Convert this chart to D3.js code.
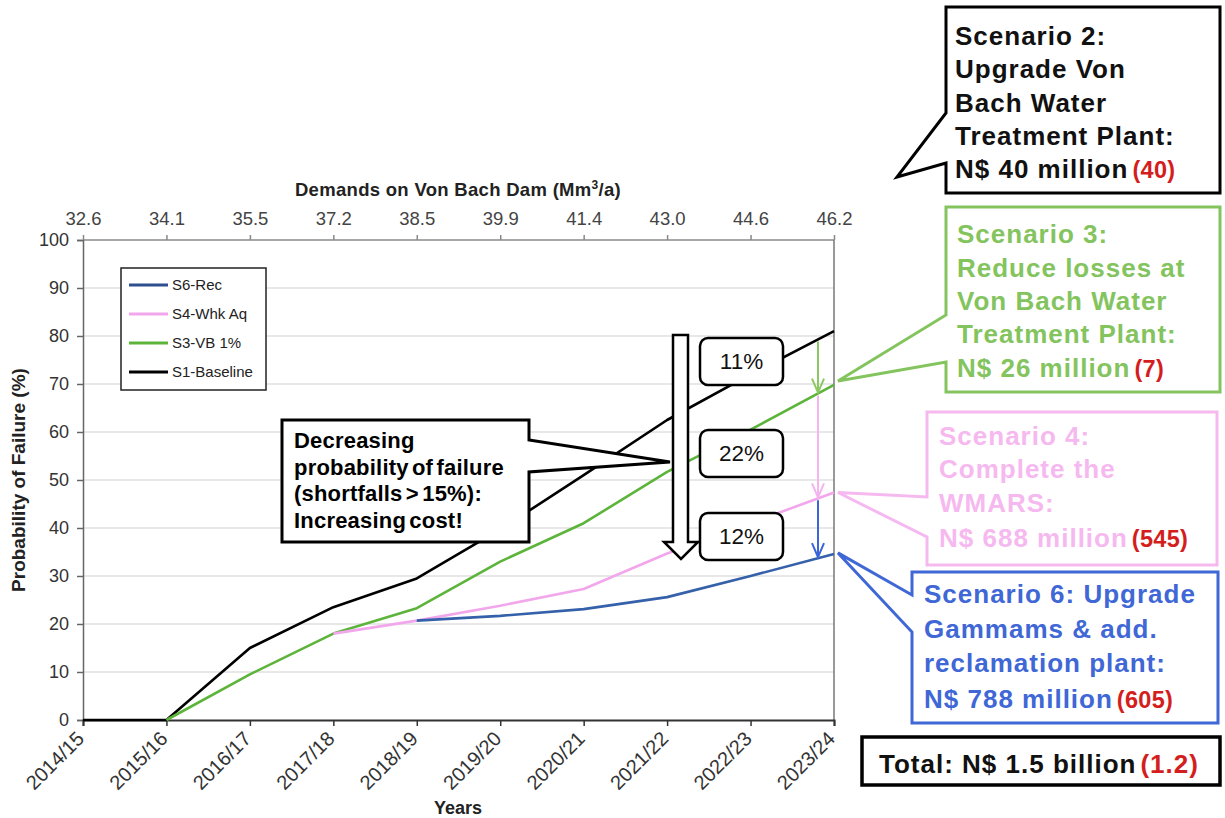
<!DOCTYPE html>
<html>
<head>
<meta charset="utf-8">
<script src="https://cdn.jsdelivr.net/npm/d3@7"></script>
<style>
  html, body { margin: 0; padding: 0; background: #fff; }
  svg { display: block; font-family: "Liberation Sans", Arial, sans-serif; }
</style>
</head>
<body>
<svg id="chart" width="1225" height="818"></svg>
<script>
// ---------- DATA ----------
const years = ["2014/15","2015/16","2016/17","2017/18","2018/19","2019/20","2020/21","2021/22","2022/23","2023/24"];
const demandLabels = ["32.6","34.1","35.5","37.2","38.5","39.9","41.4","43.0","44.6","46.2"];
const yTickValues = [0,10,20,30,40,50,60,70,80,90,100];
const seriesNames = ["S6-Rec","S4-Whk Aq","S3-VB 1%","S1-Baseline"];
const s1Baseline = [0, 0, 15, 23.5, 29.5, 39.7, 51, 62.5, 72, 81];
const s3VB = [null, 0, 9.5, 18, 23.3, 33, 41, 51.7, 60.5, 69.8];
const s4Whk = [null, null, null, 18, 20.7, 23.8, 27.3, 34.7, 41, 47.4];
const s6Rec = [null, null, null, null, 20.7, 21.7, 23.1, 25.6, 30, 34.6];
const diffLabels = ["11%", "22%", "12%"];

// ---------- SETUP ----------
const svg = d3.select("#chart");
const plot = {left: 83, right: 834, top: 240, bottom: 720};

const x = d3.scalePoint().domain(years).range([plot.left, plot.right]);
const xTop = d3.scalePoint().domain(demandLabels).range([plot.left, plot.right]);
const y = d3.scaleLinear().domain([0, 100]).range([plot.bottom, plot.top]);

const colBlue = "#3560aa", colPink = "#f2a7ec", colGreen = "#5cb43b", colBlack = "#000";
const seriesColors = [colBlue, colPink, colGreen, colBlack];
const seriesData = [s6Rec, s4Whk, s3VB, s1Baseline];

// gridlines
svg.append("g").selectAll("line").data(yTickValues.filter(d => d > 0 && d < 100)).join("line")
  .attr("x1", plot.left).attr("x2", plot.right)
  .attr("y1", d => y(d)).attr("y2", d => y(d))
  .attr("stroke", "#e0e0e0").attr("stroke-width", 1.5);

// frame (top & right)
svg.append("line").attr("x1", plot.left).attr("x2", plot.right).attr("y1", plot.top).attr("y2", plot.top)
  .attr("stroke", "#8a8a8a").attr("stroke-width", 1.5);
svg.append("line").attr("x1", plot.right).attr("x2", plot.right).attr("y1", plot.top).attr("y2", plot.bottom)
  .attr("stroke", "#777").attr("stroke-width", 1.5);

// axes
const axisLeft = svg.append("g").attr("transform", `translate(${plot.left},0)`)
  .call(d3.axisLeft(y).tickValues(yTickValues).tickSize(6).tickPadding(8));
axisLeft.select(".domain").attr("stroke", "#666").attr("stroke-width", 1.5);
axisLeft.selectAll(".tick line").attr("stroke", "#666").attr("stroke-width", 1.5);
axisLeft.selectAll("text").attr("font-size", 18).attr("fill", "#333")
  .attr("font-family", "Liberation Sans, Arial, sans-serif");

const axisBottom = svg.append("g").attr("transform", `translate(0,${plot.bottom})`)
  .call(d3.axisBottom(x).tickSize(6).tickPadding(4));
axisBottom.select(".domain").attr("stroke", "#333").attr("stroke-width", 2);
axisBottom.selectAll(".tick line").attr("stroke", "#333").attr("stroke-width", 1.5);
axisBottom.selectAll("text").attr("font-size", 20).attr("fill", "#333")
  .attr("font-family", "Liberation Sans, Arial, sans-serif")
  .attr("text-anchor", "end").attr("x", 0).attr("y", 0).attr("dy", "0.35em")
  .attr("transform", "translate(-3,15) rotate(-45)");

const axisTopG = svg.append("g").attr("transform", `translate(0,${plot.top})`)
  .call(d3.axisTop(xTop).tickSize(5).tickPadding(10));
axisTopG.select(".domain").remove();
axisTopG.selectAll(".tick line").attr("stroke", "#888").attr("stroke-width", 1.5);
axisTopG.selectAll("text").attr("font-size", 18.5).attr("fill", "#444")
  .attr("font-family", "Liberation Sans, Arial, sans-serif");

// axis titles
const topTitle = svg.append("text").attr("x", 458).attr("y", 196).attr("text-anchor", "middle")
  .attr("font-size", 18.5).attr("font-weight", "bold").attr("fill", "#222").attr("letter-spacing", "0.3");
topTitle.append("tspan").text("Demands on Von Bach Dam (Mm");
topTitle.append("tspan").text("3").attr("font-size", 12).attr("dy", -7);
topTitle.append("tspan").text("/a)").attr("dy", 7);

svg.append("text").attr("x", 458).attr("y", 814).attr("text-anchor", "middle")
  .attr("font-size", 18).attr("font-weight", "bold").attr("fill", "#222").text("Years");

svg.append("text").attr("transform", "translate(25,480) rotate(-90)").attr("text-anchor", "middle")
  .attr("font-size", 19).attr("font-weight", "bold").attr("fill", "#222").text("Probability of Failure (%)");

// series lines
const line = d3.line().defined(d => d[1] !== null).x(d => x(d[0])).y(d => y(d[1]));
[3, 2, 1, 0].forEach(i => {
  svg.append("path").datum(years.map((yr, j) => [yr, seriesData[i][j]]))
    .attr("d", line).attr("fill", "none").attr("stroke", seriesColors[i])
    .attr("stroke-width", 2.6).attr("stroke-linejoin", "round");
});

// legend
const lg = svg.append("g");
lg.append("rect").attr("x", 121).attr("y", 268).attr("width", 145).attr("height", 122)
  .attr("fill", "#fff").attr("stroke", "#222").attr("stroke-width", 1.5);
seriesNames.forEach((nm, i) => {
  const yy = 285 + i * 29;
  lg.append("line").attr("x1", 129).attr("x2", 168).attr("y1", yy).attr("y2", yy)
    .attr("stroke", i === 0 ? "#2d4f8e" : seriesColors[i]).attr("stroke-width", 3);
  lg.append("text").attr("x", 172).attr("y", yy + 5).attr("font-size", 15).attr("fill", "#222").text(nm);
});

// ---------- ANNOTATIONS ----------
const n = years.length;
function valAt(series, px) {
  const x0 = x(years[n - 2]), x1 = x(years[n - 1]);
  const t = (px - x0) / (x1 - x0);
  return series[n - 2] + t * (series[n - 1] - series[n - 2]);
}
const arrowX = plot.right - 16;
const arrowDefs = [
  {from: s1Baseline, to: s3VB, color: "#8cc862"},
  {from: s3VB, to: s4Whk, color: "#f4b4ee"},
  {from: s4Whk, to: s6Rec, color: "#3a66d8"}
];
arrowDefs.forEach(a => {
  const y0 = y(valAt(a.from, arrowX)) + 2, y1 = y(valAt(a.to, arrowX)) - 1;
  svg.append("line").attr("x1", arrowX).attr("x2", arrowX).attr("y1", y0).attr("y2", y1)
    .attr("stroke", a.color).attr("stroke-width", 2);
  svg.append("path").attr("d", `M${arrowX - 6},${y1 - 14} L${arrowX},${y1} L${arrowX + 6},${y1 - 14}`)
    .attr("fill", "none").attr("stroke", a.color).attr("stroke-width", 2);
});

// decreasing callout
svg.append("path").attr("d", "M282,420 H529 V440 L670,462 L529,472 V542 H282 Z")
  .attr("fill", "#fff").attr("stroke", "#000").attr("stroke-width", 3).attr("stroke-linejoin", "miter");
const decLines = ["Decreasing", "probability of failure", "(shortfalls > 15%):", "Increasing cost!"];
decLines.forEach((t, i) => {
  svg.append("text").attr("x", 294).attr("y", 448 + i * 26.7).attr("font-size", 22)
    .attr("font-weight", "bold").attr("letter-spacing", "0.2").attr("word-spacing", "-3").attr("fill", "#000").text(t);
});

// big down arrow
svg.append("path").attr("d", "M673,335 H688 V542 H698 L681,559 L664,542 H673 Z")
  .attr("fill", "#fff").attr("stroke", "#000").attr("stroke-width", 2.5).attr("stroke-linejoin", "miter");

// percentage boxes
[338, 430, 513].forEach((top, i) => {
  svg.append("rect").attr("x", 700).attr("y", top).attr("width", 83).attr("height", 47).attr("rx", 8)
    .attr("fill", "#fff").attr("stroke", "#000").attr("stroke-width", 2.5);
  svg.append("text").attr("x", 741.5).attr("y", top + 31).attr("text-anchor", "middle")
    .attr("font-size", 22.5).attr("fill", "#111").text(diffLabels[i]);
});

// scenario callouts
const redCol = "#d41e1e";
function callout(box, base, tip, color, lines, tx, baselines, red) {
  const [x0, y0, x1, y1] = box;
  svg.append("path")
    .attr("d", `M${x0},${y0} H${x1} V${y1} H${x0} V${base[1]} L${tip[0]},${tip[1]} L${x0},${base[0]} Z`)
    .attr("fill", "#fff").attr("stroke", color).attr("stroke-width", 3).attr("stroke-linejoin", "miter");
  lines.forEach((t, i) => {
    const tEl = svg.append("text").attr("x", tx).attr("y", baselines[i]).attr("font-size", 26)
      .attr("font-weight", "bold").attr("letter-spacing", "1").attr("fill", color === "#000" ? "#111" : color);
    tEl.append("tspan").text(t);
    if (i === lines.length - 1 && red) {
      tEl.append("tspan").attr("dx", 4).attr("font-size", 23.5).attr("letter-spacing", "0.3").attr("fill", redCol).text(red);
    }
  });
}
const endX = plot.right;
callout([946, 7, 1220, 193], [113, 163], [897, 177], "#000",
  ["Scenario 2:", "Upgrade Von", "Bach Water", "Treatment Plant:", "N$ 40 million"], 955,
  [45, 78, 112, 145, 178], "(40)");
callout([946, 207, 1220, 392], [315, 362], [endX + 4, y(s3VB[n - 1]) - 4], "#84c45e",
  ["Scenario 3:", "Reduce losses at", "Von Bach Water", "Treatment Plant:", "N$ 26 million"], 957,
  [243, 277, 310, 343, 377], "(7)");
callout([927, 412, 1217, 565], [497, 537], [endX + 4, y(s4Whk[n - 1])], "#f6b9ef",
  ["Scenario 4:", "Complete the", "WMARS:", "N$ 688 million"], 939,
  [445, 478, 512, 547], "(545)");
callout([912, 572, 1218, 723], [595, 632], [endX + 4, y(s6Rec[n - 1]) - 1], "#3f67d6",
  ["Scenario 6: Upgrade", "Gammams & add.", "reclamation plant:", "N$ 788 million"], 924,
  [603, 638, 672, 708], "(605)");

// total box
svg.append("rect").attr("x", 862).attr("y", 737).attr("width", 358).attr("height", 48)
  .attr("fill", "#fff").attr("stroke", "#000").attr("stroke-width", 3.5);
const tot = svg.append("text").attr("x", 879).attr("y", 773).attr("font-size", 26)
  .attr("font-weight", "bold").attr("letter-spacing", "1").attr("fill", "#111");
tot.append("tspan").text("Total: N$ 1.5 billion");
tot.append("tspan").attr("dx", 4).attr("fill", redCol).text("(1.2)");
</script>
</body>
</html>
